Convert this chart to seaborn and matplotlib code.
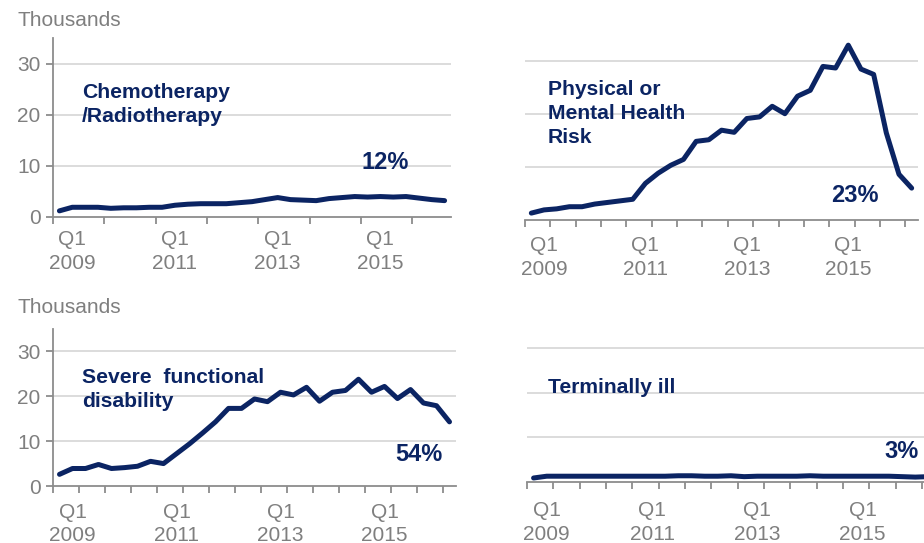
import matplotlib
matplotlib.use("Agg")
import matplotlib.pyplot as plt
import seaborn as sns
import pandas as pd
import numpy as np

# ---- data (thousands, quarterly, 31 quarters) ----
quarters = list(range(31))
chemo = [1.2, 1.9, 1.9, 1.9, 1.7, 1.8, 1.8, 1.9, 1.9, 2.3, 2.5, 2.6, 2.6, 2.6, 2.8, 3.0,
         3.4, 3.8, 3.4, 3.3, 3.2, 3.6, 3.8, 4.0, 3.9, 4.0, 3.9, 4.0, 3.7, 3.4, 3.2]
physical = [1.3, 1.9, 2.1, 2.5, 2.5, 3.0, 3.3, 3.6, 3.9, 6.9, 8.8, 10.3, 11.4, 14.8, 15.1, 16.9,
            16.5, 19.1, 19.4, 21.4, 20.0, 23.3, 24.4, 28.9, 28.6, 32.9, 28.4, 27.4, 16.4, 8.6, 6.0]
severe = [2.6, 3.9, 3.9, 4.8, 3.9, 4.1, 4.4, 5.5, 5.0, 7.2, 9.4, 11.8, 14.3, 17.3, 17.3, 19.4,
          18.8, 20.9, 20.3, 22.0, 18.9, 20.9, 21.3, 23.8, 20.9, 22.2, 19.5, 21.5, 18.5, 17.9, 14.3]
terminal = [0.9, 1.3, 1.3, 1.3, 1.3, 1.3, 1.3, 1.3, 1.3, 1.3, 1.3, 1.4, 1.4, 1.3, 1.3, 1.4,
            1.2, 1.3, 1.3, 1.3, 1.3, 1.4, 1.3, 1.3, 1.3, 1.3, 1.3, 1.3, 1.2, 1.1, 1.2]

panel_titles = ["Chemotherapy\n/Radiotherapy", "Physical or\nMental Health\nRisk",
                "Severe  functional\ndisability", "Terminally ill"]
panel_shares = ["12%", "23%", "54%", "3%"]
xtick_labels = ["Q1\n2009", "Q1\n2011", "Q1\n2013", "Q1\n2015"]
xtick_label_pos = [1, 9, 17, 25]
ytick_vals = [0, 10, 20, 30]
unit_label = "Thousands"

NAVY = "#0b2463"
GRAY_TXT = "#7f7f7f"
GRAY_AX = "#8c8c8c"
GRID = "#d9d9d9"

sns.set_theme(style="white")
plt.rcParams['font.family'] = ['Liberation Sans', 'DejaVu Sans']

W, H = 924, 543
fig = plt.figure(figsize=(W / 100, H / 100), dpi=100)


def ax_at(left, top, right, bottom):
    return fig.add_axes([left / W, 1 - bottom / H, (right - left) / W, (bottom - top) / H])


def ftext(x, y, s, **kw):
    fig.text(x / W, 1 - y / H, s, **kw)


specs = [
    # series, axes box (l, t, r, b), show y axis, major tick step, label pad
    (chemo, (53, 38, 451, 217), True, 4, 9.5),
    (physical, (525, 34, 918, 220), False, 2, 11.5),
    (severe, (53, 329, 456, 486), True, 2, 12),
    (terminal, (527, 326, 935, 482), False, 2, 14),
]

for (series, box, show_y, step, pad) in specs:
    ax = ax_at(*box)
    df = pd.DataFrame({"q": quarters, "v": series})
    sns.lineplot(data=df, x="q", y="v", ax=ax, color=NAVY, linewidth=3.6,
                 solid_capstyle="round", solid_joinstyle="round", clip_on=False)
    ax.set_xlim(-0.5, len(quarters) - 0.5)
    ax.set_ylim(0, 35)
    ax.set_xlabel("")
    ax.set_ylabel("")
    for y in ytick_vals[1:]:
        ax.axhline(y, color=GRID, linewidth=1.3, zorder=0)
    for s in ["top", "right"]:
        ax.spines[s].set_visible(False)
    ax.spines["bottom"].set_color(GRAY_AX)
    ax.spines["bottom"].set_linewidth(1.3)
    ax.spines["left"].set_color(GRAY_AX)
    ax.spines["left"].set_linewidth(1.3)
    ax.spines["left"].set_visible(show_y)
    ax.set_xticks(np.arange(-0.5, len(quarters) - 0.5, step))
    ax.set_xticklabels([])
    ax.set_xticks(xtick_label_pos, minor=True)
    ax.set_xticklabels(xtick_labels, minor=True)
    ax.tick_params(axis="x", which="major", bottom=True, length=5, width=1.3,
                   color=GRAY_AX, direction="out")
    ax.tick_params(axis="x", which="minor", bottom=True, length=0, pad=pad,
                   labelsize=15, labelcolor=GRAY_TXT)
    for t in ax.get_xticklabels(minor=True):
        t.set_linespacing(1.32)
    if show_y:
        ax.set_yticks(ytick_vals)
        ax.set_yticklabels([str(v) for v in ytick_vals])
        ax.tick_params(axis="y", left=True, length=5, width=1.3, color=GRAY_AX,
                       direction="out", pad=4, labelsize=15, labelcolor=GRAY_TXT)
    else:
        ax.set_yticks([])
    ax.set_facecolor("none")

# unit labels
ftext(17, 26, unit_label, fontsize=15, color=GRAY_TXT, va="baseline", ha="left")
ftext(17, 313, unit_label, fontsize=15, color=GRAY_TXT, va="baseline", ha="left")

# panel titles (last-line baselines)
title_pos = [(82, 122), (548, 143), (82, 407), (548, 393)]
for (x, y), t in zip(title_pos, panel_titles):
    ftext(x, y, t, fontsize=15.2, fontweight="bold", color=NAVY, va="baseline",
          ha="left", linespacing=1.33)

# shares
share_pos = [(385, 169), (855, 202), (419, 461), (902, 458)]
for (x, y), t in zip(share_pos, panel_shares):
    ftext(x, y, t, fontsize=17, fontweight="bold", color=NAVY, va="baseline", ha="center")

fig.savefig("out.png", dpi=100)
